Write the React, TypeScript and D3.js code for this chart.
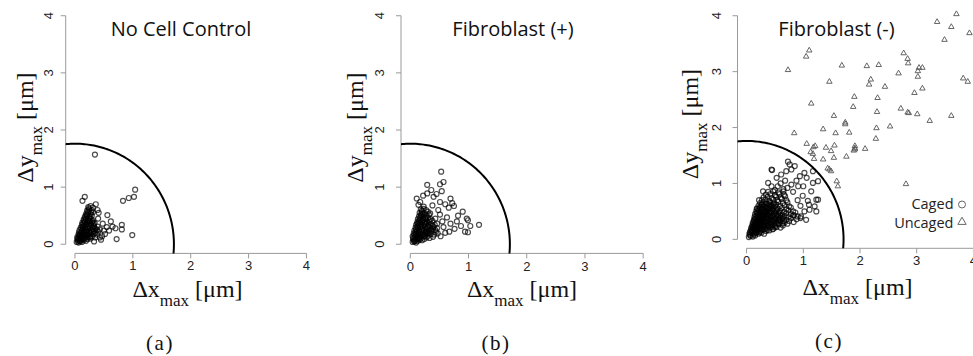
import React from "react";
import * as d3 from "d3";

// tick values shared by every panel
const xTicks = [0, 1, 2, 3, 4];
const yTicks = [0, 1, 2, 3, 4];

const titles = ["No Cell Control", "Fibroblast (+)", "Fibroblast (-)"];
const captions = ["(a)", "(b)", "(c)"];
const legendLabels = ["Caged", "Uncaged"];

// quarter-circle cutoff (um)
const cutoffX = 1.71;
const cutoffY = 1.76;

// caged cells, [dx, dy] in um
const cagedA = [
  [0.03, 0.04], [0.06, 0.03], [0.09, 0.05], [0.12, 0.04], [0.05, 0.08], [0.08, 0.09], [0.11, 0.08], [0.15, 0.07], [0.19, 0.06],
  [0.04, 0.12], [0.07, 0.13], [0.1, 0.12], [0.14, 0.11], [0.18, 0.1], [0.22, 0.09], [0.27, 0.1],
  [0.06, 0.17], [0.09, 0.16], [0.13, 0.15], [0.17, 0.15], [0.21, 0.14], [0.25, 0.13], [0.3, 0.14], [0.35, 0.12],
  [0.07, 0.21], [0.11, 0.2], [0.15, 0.19], [0.19, 0.2], [0.23, 0.18], [0.27, 0.19], [0.32, 0.18], [0.38, 0.17],
  [0.08, 0.25], [0.12, 0.24], [0.16, 0.24], [0.2, 0.25], [0.24, 0.23], [0.28, 0.24], [0.33, 0.23], [0.4, 0.22],
  [0.1, 0.29], [0.14, 0.3], [0.18, 0.28], [0.22, 0.3], [0.26, 0.28], [0.3, 0.29], [0.36, 0.27], [0.43, 0.26],
  [0.12, 0.34], [0.16, 0.33], [0.2, 0.35], [0.24, 0.33], [0.28, 0.34], [0.33, 0.32], [0.39, 0.31],
  [0.13, 0.38], [0.17, 0.39], [0.21, 0.38], [0.25, 0.4], [0.29, 0.38], [0.34, 0.37],
  [0.15, 0.43], [0.19, 0.44], [0.23, 0.43], [0.27, 0.45], [0.31, 0.42],
  [0.17, 0.48], [0.21, 0.49], [0.25, 0.48], [0.29, 0.5], [0.19, 0.53], [0.23, 0.55], [0.27, 0.53], [0.31, 0.56],
  [0.21, 0.59], [0.25, 0.61], [0.29, 0.6], [0.23, 0.65], [0.27, 0.67], [0.31, 0.64],
  [0.05, 0.06], [0.1, 0.1], [0.16, 0.17], [0.2, 0.22], [0.14, 0.26],
  [0.045, 0.1], [0.075, 0.15], [0.095, 0.2], [0.115, 0.27], [0.13, 0.31], [0.15, 0.36], [0.16, 0.41], [0.18, 0.46],
  [0.2, 0.51], [0.22, 0.57], [0.24, 0.63], [0.08, 0.06], [0.135, 0.085], [0.17, 0.12], [0.2, 0.165], [0.25, 0.205],
  [0.29, 0.215], [0.31, 0.26], [0.33, 0.3], [0.26, 0.36], [0.23, 0.41], [0.3, 0.4], [0.25, 0.46], [0.28, 0.56],
  [0.22, 0.13], [0.12, 0.18], [0.18, 0.31], [0.35, 0.2], [0.38, 0.25], [0.27, 0.13], [0.32, 0.36], [0.21, 0.52],
  [0.345, 1.57], [1.04, 0.955], [1.02, 0.83], [0.93, 0.81], [0.83, 0.76], [0.17, 0.83], [0.13, 0.76], [0.99, 0.16],
  [0.72, 0.09], [0.81, 0.34], [0.81, 0.26], [0.62, 0.4], [0.65, 0.31], [0.56, 0.51], [0.39, 0.6], [0.41, 0.55],
  [0.7, 0.28], [0.5, 0.24], [0.59, 0.24], [0.47, 0.14], [0.43, 0.12], [0.36, 0.7], [0.4, 0.45], [0.48, 0.36],
  [0.55, 0.3], [0.52, 0.18], [0.45, 0.08], [0.33, 0.05],
];

const cagedB = [
  [0.04, 0.04], [0.07, 0.05], [0.1, 0.03], [0.13, 0.06], [0.05, 0.09], [0.09, 0.08], [0.12, 0.1], [0.16, 0.08], [0.2, 0.07], [0.24, 0.09],
  [0.04, 0.14], [0.08, 0.13], [0.11, 0.15], [0.15, 0.12], [0.19, 0.13], [0.23, 0.14], [0.28, 0.12], [0.33, 0.11], [0.39, 0.13],
  [0.06, 0.19], [0.09, 0.18], [0.13, 0.2], [0.17, 0.18], [0.21, 0.19], [0.25, 0.17], [0.3, 0.19], [0.35, 0.18], [0.41, 0.17], [0.47, 0.19],
  [0.07, 0.24], [0.11, 0.23], [0.15, 0.25], [0.19, 0.23], [0.23, 0.24], [0.27, 0.22], [0.32, 0.24], [0.37, 0.23], [0.43, 0.25],
  [0.09, 0.29], [0.13, 0.28], [0.17, 0.3], [0.21, 0.28], [0.25, 0.3], [0.29, 0.27], [0.34, 0.29], [0.4, 0.3], [0.46, 0.28],
  [0.1, 0.34], [0.14, 0.33], [0.18, 0.35], [0.22, 0.33], [0.26, 0.35], [0.31, 0.33], [0.36, 0.35], [0.42, 0.34],
  [0.12, 0.39], [0.16, 0.38], [0.2, 0.4], [0.24, 0.38], [0.28, 0.4], [0.33, 0.39], [0.38, 0.41],
  [0.13, 0.44], [0.17, 0.43], [0.21, 0.45], [0.26, 0.44], [0.3, 0.46], [0.35, 0.44],
  [0.15, 0.49], [0.19, 0.5], [0.23, 0.48], [0.28, 0.5], [0.32, 0.52],
  [0.16, 0.55], [0.2, 0.56], [0.25, 0.54], [0.3, 0.57], [0.18, 0.61], [0.23, 0.62], [0.27, 0.6],
  [0.06, 0.06], [0.14, 0.16], [0.2, 0.26], [0.26, 0.2], [0.12, 0.36],
  [0.05, 0.11], [0.07, 0.16], [0.09, 0.21], [0.1, 0.26], [0.12, 0.31], [0.14, 0.37], [0.15, 0.42], [0.17, 0.47],
  [0.18, 0.52], [0.2, 0.59], [0.08, 0.06], [0.14, 0.09], [0.18, 0.1], [0.21, 0.16], [0.25, 0.14], [0.28, 0.2],
  [0.32, 0.21], [0.35, 0.26], [0.3, 0.31], [0.24, 0.35], [0.28, 0.37], [0.22, 0.42], [0.26, 0.47], [0.21, 0.53],
  [0.39, 0.27], [0.44, 0.22], [0.38, 0.32], [0.33, 0.42], [0.12, 0.13], [0.16, 0.22], [0.19, 0.31], [0.3, 0.15],
  [0.53, 1.27], [0.57, 1.09], [0.51, 1.05], [0.54, 0.93], [0.29, 1.04], [0.29, 0.89], [0.4, 0.83], [0.11, 0.8],
  [0.17, 0.74], [0.69, 0.8], [0.72, 0.72], [0.75, 0.67], [0.66, 0.64], [0.6, 0.7], [0.51, 0.74], [0.9, 0.57],
  [0.97, 0.45], [0.99, 0.42], [1.18, 0.34], [1.03, 0.32], [0.87, 0.32], [0.94, 0.22], [0.99, 0.21], [0.76, 0.27],
  [0.67, 0.22], [0.57, 0.3], [0.34, 0.54], [0.43, 0.45], [0.23, 0.66], [0.14, 0.69], [0.51, 0.52], [0.63, 0.47],
  [0.8, 0.4], [0.69, 0.36], [0.55, 0.4], [0.48, 0.6], [0.38, 0.68], [0.6, 0.2], [0.52, 0.14], [0.46, 0.36],
  [0.82, 0.5], [0.36, 0.95], [0.45, 0.88], [0.22, 0.85],
];

const cagedC = [
  [0.04, 0.04], [0.07, 0.06], [0.11, 0.05], [0.15, 0.07],
  [0.05, 0.1], [0.09, 0.11], [0.13, 0.09], [0.17, 0.11], [0.21, 0.1], [0.26, 0.12], [0.31, 0.1],
  [0.07, 0.15], [0.11, 0.16], [0.15, 0.14], [0.19, 0.16], [0.24, 0.15], [0.29, 0.17], [0.34, 0.15], [0.4, 0.16], [0.46, 0.18],
  [0.08, 0.2], [0.12, 0.21], [0.16, 0.19], [0.2, 0.21], [0.25, 0.2], [0.3, 0.22], [0.35, 0.2], [0.41, 0.21], [0.47, 0.19], [0.53, 0.22], [0.6, 0.21],
  [0.1, 0.25], [0.14, 0.26], [0.18, 0.24], [0.23, 0.26], [0.28, 0.25], [0.33, 0.27], [0.38, 0.25], [0.44, 0.26], [0.5, 0.24], [0.57, 0.27], [0.64, 0.25], [0.72, 0.28],
  [0.11, 0.3], [0.15, 0.31], [0.2, 0.29], [0.25, 0.31], [0.3, 0.3], [0.35, 0.32], [0.41, 0.3], [0.47, 0.31], [0.53, 0.29], [0.6, 0.32], [0.67, 0.3], [0.75, 0.33], [0.83, 0.31],
  [0.13, 0.35], [0.17, 0.36], [0.22, 0.34], [0.27, 0.36], [0.32, 0.35], [0.38, 0.37], [0.44, 0.35], [0.5, 0.36], [0.56, 0.34], [0.63, 0.37], [0.7, 0.35], [0.78, 0.38], [0.88, 0.36], [0.95, 0.38],
  [0.14, 0.4], [0.19, 0.41], [0.24, 0.39], [0.29, 0.41], [0.35, 0.4], [0.41, 0.42], [0.47, 0.4], [0.53, 0.41], [0.6, 0.39], [0.67, 0.42], [0.74, 0.4], [0.82, 0.43], [0.9, 0.41],
  [0.15, 0.45], [0.2, 0.46], [0.26, 0.44], [0.31, 0.46], [0.37, 0.45], [0.43, 0.47], [0.49, 0.45], [0.56, 0.46], [0.63, 0.44], [0.7, 0.47], [0.78, 0.45], [0.86, 0.48],
  [0.17, 0.5], [0.22, 0.51], [0.28, 0.49], [0.34, 0.51], [0.4, 0.5], [0.46, 0.52], [0.52, 0.5], [0.59, 0.51], [0.66, 0.49], [0.74, 0.52], [0.82, 0.5],
  [0.19, 0.55], [0.24, 0.56], [0.3, 0.54], [0.36, 0.56], [0.42, 0.55], [0.48, 0.57], [0.55, 0.55], [0.62, 0.56], [0.7, 0.54], [0.78, 0.57],
  [0.21, 0.6], [0.27, 0.61], [0.33, 0.59], [0.39, 0.61], [0.45, 0.6], [0.52, 0.62], [0.59, 0.6], [0.67, 0.61], [0.75, 0.59],
  [0.24, 0.65], [0.3, 0.66], [0.36, 0.64], [0.42, 0.66], [0.49, 0.65], [0.56, 0.67], [0.64, 0.65], [0.72, 0.66],
  [0.27, 0.7], [0.33, 0.71], [0.4, 0.69], [0.47, 0.71], [0.54, 0.7], [0.62, 0.72], [0.7, 0.7],
  [0.3, 0.75], [0.37, 0.76], [0.44, 0.74], [0.52, 0.76], [0.6, 0.75], [0.68, 0.77],
  [0.34, 0.8], [0.42, 0.81], [0.5, 0.79], [0.58, 0.81], [0.66, 0.8],
  [0.38, 0.85], [0.47, 0.86], [0.56, 0.84], [0.65, 0.86],
  [0.06, 0.08], [0.1, 0.13], [0.14, 0.18], [0.18, 0.22], [0.22, 0.28], [0.26, 0.33], [0.12, 0.23], [0.16, 0.28],
  [0.2, 0.33], [0.24, 0.37], [0.28, 0.43], [0.32, 0.48],
  [0.06, 0.125], [0.1, 0.13], [0.14, 0.12], [0.18, 0.135], [0.23, 0.125],
  [0.09, 0.175], [0.13, 0.18], [0.17, 0.17], [0.22, 0.18], [0.27, 0.175], [0.32, 0.185], [0.37, 0.17],
  [0.1, 0.225], [0.14, 0.23], [0.18, 0.22], [0.22, 0.235], [0.27, 0.225], [0.32, 0.235], [0.38, 0.23], [0.44, 0.225], [0.5, 0.215],
  [0.12, 0.275], [0.17, 0.28], [0.21, 0.27], [0.26, 0.28], [0.31, 0.275], [0.37, 0.285], [0.43, 0.28], [0.49, 0.27], [0.56, 0.29], [0.63, 0.28],
  [0.13, 0.325], [0.18, 0.33], [0.23, 0.32], [0.28, 0.335], [0.34, 0.325], [0.4, 0.335], [0.46, 0.33], [0.52, 0.32], [0.58, 0.34], [0.66, 0.33],
  [0.15, 0.375], [0.21, 0.38], [0.26, 0.37], [0.31, 0.385], [0.37, 0.38], [0.43, 0.385], [0.5, 0.38], [0.57, 0.375], [0.64, 0.39],
  [0.17, 0.425], [0.22, 0.43], [0.28, 0.42], [0.34, 0.435], [0.4, 0.43], [0.46, 0.425], [0.53, 0.435], [0.6, 0.43],
  [0.18, 0.475], [0.24, 0.48], [0.3, 0.47], [0.36, 0.485], [0.42, 0.48], [0.5, 0.475], [0.57, 0.485],
  [0.21, 0.53], [0.27, 0.535], [0.33, 0.52], [0.39, 0.535], [0.46, 0.53], [0.53, 0.525],
  [0.24, 0.58], [0.3, 0.585], [0.36, 0.575], [0.43, 0.58], [0.5, 0.585],
  [0.27, 0.63], [0.34, 0.635], [0.4, 0.625], [0.47, 0.63],
  [0.45, 1.24], [0.73, 1.39], [0.76, 1.34], [0.79, 1.25], [0.7, 1.22], [0.85, 1.31], [0.61, 1.16], [0.53, 1.1],
  [0.94, 1.13], [1.02, 1.19], [1.06, 1.1], [1.17, 1.01], [1.26, 1.04], [1.14, 0.86], [1.23, 0.71], [1.2, 0.59],
  [1.11, 0.53], [1.08, 0.69], [0.99, 0.78], [0.91, 0.95], [0.79, 0.98], [0.38, 1.01], [0.44, 0.95], [0.29, 0.86],
  [0.96, 0.41], [1.05, 0.35], [0.84, 0.43], [1.17, 1.22], [1.23, 0.5], [1.26, 0.71], [0.44, 1.25], [0.6, 1.0],
  [0.68, 1.05], [0.55, 0.95], [0.88, 1.05], [1.0, 0.95], [0.95, 0.6], [1.02, 0.5], [0.9, 0.7], [0.65, 0.9],
  [0.5, 0.88], [0.72, 0.92], [0.82, 0.85], [1.1, 0.62], [0.22, 0.7], [0.18, 0.55],
];

// uncaged cells, only in Fibroblast (-)
const uncagedC = [
  [3.7, 4.03], [3.36, 3.89], [3.61, 3.8], [3.93, 3.69], [3.49, 3.57], [1.105, 3.38], [1.05, 3.27], [0.73, 3.03],
  [1.68, 3.11], [2.12, 3.1], [2.33, 3.12], [2.77, 3.33], [2.84, 3.23], [2.85, 3.15], [2.68, 2.97], [3.04, 3.07],
  [3.1, 3.07], [3.02, 3.01], [3.02, 2.91], [2.19, 2.86], [2.16, 2.77], [2.44, 2.73], [1.46, 2.82], [3.82, 2.88],
  [3.9, 2.82], [3.1, 2.7], [2.96, 2.62], [1.9, 2.55], [2.31, 2.53], [1.14, 2.43], [1.88, 2.37], [2.72, 2.34],
  [2.84, 2.27], [2.86, 2.26], [2.3, 2.28], [3.01, 2.24], [1.54, 2.21], [3.61, 2.21], [3.23, 2.12], [1.74, 2.09],
  [1.74, 2.06], [2.53, 2.02], [1.35, 1.97], [2.29, 1.99], [0.84, 1.9], [1.57, 1.9], [1.81, 1.91], [2.28, 1.8],
  [1.06, 1.71], [1.4, 1.64], [1.55, 1.68], [1.21, 1.67], [1.18, 1.65], [1.91, 1.67], [1.91, 1.63], [1.91, 1.61],
  [2.09, 1.62], [1.13, 1.56], [1.17, 1.53], [1.49, 1.58], [1.76, 1.48], [1.35, 1.43], [1.54, 1.46], [1.19, 1.44],
  [1.89, 1.59], [1.43, 1.27], [1.49, 1.22], [1.59, 1.04], [1.61, 0.95], [2.81, 0.99], [1.46, 1.25],
];

const panels = [
  { caged: cagedA, uncaged: [], box: { l: 65.7, r: 315.7, t: 6.6, b: 253.4 }, titleX: 181, xLab: [187.5, 297], yLab: [32.5, 127.5], yTickOff: 17.4, xTickY: 265, capX: 160, capY: 350 },
  { caged: cagedB, uncaged: [], box: { l: 401, r: 652.5, t: 6.6, b: 253.4 }, titleX: 513, xLab: [522, 297], yLab: [363, 127.5], yTickOff: 21.5, xTickY: 266, capX: 496, capY: 350 },
  { caged: cagedC, uncaged: uncagedC, box: { l: 737.5, r: 982.5, t: 6.8, b: 248.3 }, titleX: 836.5, xLab: [857.5, 295], yLab: [698, 124], yTickOff: 21, xTickY: 260, capX: 829, capY: 348 },
];

const pad = 0.16;
const axisColor = "#9a9a9a";
const tickFont = "'Liberation Sans', Arial, sans-serif";
const serif = "'Liberation Serif', 'Times New Roman', serif";
const sans = "'Open Sans', 'Noto Sans', sans-serif";

const triPath = d3.symbol(d3.symbolTriangle, 13)();
const triLegend = d3.symbol(d3.symbolTriangle, 30)();

const Panel = ({ p, i }) => {
  const x = d3.scaleLinear().domain([-pad, 4 + pad]).range([p.box.l, p.box.r]);
  const y = d3.scaleLinear().domain([-pad, 4 + pad]).range([p.box.b, p.box.t]);

  const angles = d3.range(0, 101).map(k => -0.2 + (Math.PI / 2 + 0.4) * k / 100);
  const arc = d3
    .line()
    .x(a => x(cutoffX * Math.cos(a)))
    .y(a => y(cutoffY * Math.sin(a)));

  const clipId = `clip-${i}`;

  return (
    <g>
      <defs>
        <clipPath id={clipId}>
          <rect x={p.box.l} y={p.box.t} width={p.box.r - p.box.l} height={p.box.b - p.box.t} />
        </clipPath>
      </defs>

      {/* axes, R style: lines run from first to last tick */}
      <g stroke={axisColor} strokeWidth={1} fill="none">
        <line x1={x(0)} x2={x(4)} y1={p.box.b} y2={p.box.b} />
        {xTicks.map(t => (
          <line key={t} x1={x(t)} x2={x(t)} y1={p.box.b} y2={p.box.b + 5} />
        ))}
        <line x1={p.box.l} x2={p.box.l} y1={y(0)} y2={y(4)} />
        {yTicks.map(t => (
          <line key={t} x1={p.box.l - 5} x2={p.box.l} y1={y(t)} y2={y(t)} />
        ))}
      </g>
      <g fontFamily={tickFont} fontSize={13} fill="#222" textAnchor="middle">
        {xTicks.map(t => (
          <text key={t} x={x(t)} y={p.xTickY} dy="0.35em">{t}</text>
        ))}
        {yTicks.map(t => (
          <text key={t} transform={`translate(${p.box.l - p.yTickOff},${y(t)}) rotate(-90)`} dy="0.35em">{t}</text>
        ))}
      </g>

      <g clipPath={`url(#${clipId})`}>
        <g fill="none" stroke="#000" strokeOpacity={0.7} strokeWidth={1.2}>
          {p.caged.map((d, k) => (
            <circle key={k} cx={x(d[0])} cy={y(d[1])} r={2.5} />
          ))}
        </g>
        <g fill="none" stroke="#555" strokeWidth={0.9}>
          {p.uncaged.map((d, k) => (
            <path key={k} d={triPath} transform={`translate(${x(d[0])},${y(d[1])})`} />
          ))}
        </g>
        <path d={arc(angles)} fill="none" stroke="#000" strokeWidth={2} />
      </g>

      <text x={p.titleX} y={36} textAnchor="middle" fontFamily={sans} fontSize={20} fill="#111">
        {titles[i]}
      </text>

      <text x={p.xLab[0]} y={p.xLab[1]} textAnchor="middle" fontFamily={serif} fontSize={24} fill="#111">
        Δx<tspan fontSize={17} dy={9}>max</tspan><tspan dy={-9}> [μm]</tspan>
      </text>
      <text transform={`translate(${p.yLab[0]},${p.yLab[1]}) rotate(-90)`} textAnchor="middle" fontFamily={serif} fontSize={24} fill="#111">
        Δy<tspan fontSize={17} dy={9}>max</tspan><tspan dy={-9}> [μm]</tspan>
      </text>

      <text x={p.capX} y={p.capY} textAnchor="middle" fontFamily={serif} fontSize={21} letterSpacing={1.5} fill="#111">
        {captions[i]}
      </text>

      {p.uncaged.length > 0 && (
        <g fontFamily={sans} fontSize={14.5} fill="#222" textAnchor="end">
          <text x={953.5} y={209}>{legendLabels[0]}</text>
          <text x={953.5} y={227.5}>{legendLabels[1]}</text>
          <circle cx={962} cy={204.5} r={3.5} fill="none" stroke="#666" strokeWidth={1} />
          <path d={triLegend} transform="translate(962,222)" fill="none" stroke="#666" strokeWidth={1} />
        </g>
      )}
    </g>
  );
};

export default function App() {
  return (
    <svg width={973} height={356} style={{ position: "absolute", left: 0, top: 0, background: "#fff" }}>
      {panels.map((p, i) => (
        <Panel key={i} p={p} i={i} />
      ))}
    </svg>
  );
}
